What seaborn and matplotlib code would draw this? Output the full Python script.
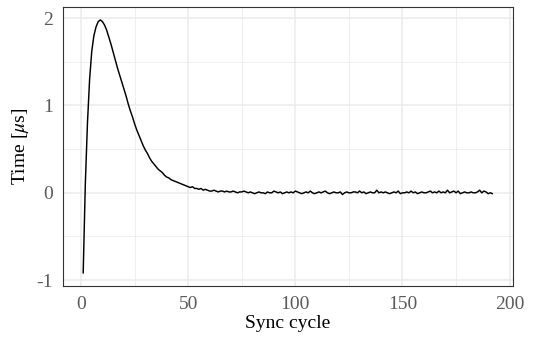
import numpy as np
import pandas as pd
import matplotlib
matplotlib.use("Agg")
import matplotlib.pyplot as plt
import seaborn as sns
from matplotlib.ticker import MultipleLocator

# Time offset per sync cycle (microseconds)
time_us = [
    -0.92, 0.10, 0.80, 1.30, 1.62, 1.80, 1.90, 1.96, 1.98, 1.96,
    1.92, 1.86, 1.78, 1.70, 1.61, 1.52, 1.43, 1.35, 1.27, 1.19,
    1.11, 1.02, 0.94, 0.87, 0.79, 0.72, 0.66, 0.60, 0.54, 0.49,
    0.45, 0.40, 0.36, 0.33, 0.30, 0.27, 0.25, 0.23, 0.20, 0.18,
    0.17, 0.15, 0.14, 0.13, 0.12, 0.11, 0.10, 0.09, 0.08, 0.07,
    0.06, 0.07, 0.05, 0.05, 0.04, 0.05, 0.03, 0.04, 0.03, 0.02,
    0.02, 0.03, 0.02, 0.01, 0.02, 0.02, 0.01, 0.02, 0.01, 0.01,
    0.02, 0.01, 0.00, 0.01, 0.01, 0.02, 0.01, 0.00, 0.01, 0.00,
    -0.01, 0.00, 0.01, 0.00, 0.00, -0.01, 0.01, 0.00, 0.00, 0.02,
    0.01, 0.00, 0.01, -0.01, 0.00, 0.01, 0.00, 0.01, 0.00, 0.02,
    0.01, 0.00, -0.01, 0.00, 0.01, 0.00, 0.02, 0.00, -0.01, 0.00,
    0.01, 0.00, 0.01, 0.02, 0.00, -0.01, 0.00, 0.01, 0.00, 0.00,
    0.01, -0.02, 0.00, 0.01, 0.00, 0.00, 0.01, 0.01, 0.00, 0.02,
    0.00, 0.01, -0.01, 0.00, 0.01, 0.00, 0.00, 0.03, 0.00, 0.01,
    0.00, 0.01, 0.00, -0.01, 0.00, 0.01, 0.00, 0.02, -0.01, 0.00,
    0.00, 0.01, 0.00, 0.02, 0.00, 0.01, -0.01, 0.00, 0.01, 0.00,
    0.00, 0.01, 0.02, 0.00, 0.01, 0.00, 0.02, 0.00, 0.01, 0.00,
    0.03, 0.00, 0.01, 0.02, 0.00, 0.02, -0.01, 0.00, 0.01, 0.00,
    0.00, 0.01, 0.00, 0.00, 0.01, 0.03, 0.00, 0.02, 0.01, -0.01,
    0.00, -0.01,
]
sync_cycle = list(range(1, len(time_us) + 1))

x_ticks = [0, 50, 100, 150, 200]
y_ticks = [-1, 0, 1, 2]

df = pd.DataFrame({"cycle": sync_cycle, "time": time_us})

sns.set_style("white")
plt.rcParams["font.family"] = ["Liberation Serif", "DejaVu Serif"]
plt.rcParams["mathtext.fontset"] = "stix"
plt.rcParams["axes.unicode_minus"] = False

fig = plt.figure(figsize=(5.36, 3.46), dpi=100)
ax = fig.add_axes([0.117, 0.174, 0.840, 0.805])

sns.lineplot(data=df, x="cycle", y="time", color="black", linewidth=1.05, ax=ax)
ax.margins(x=0.05, y=0.05)

ax.set_xticks(x_ticks)
ax.set_yticks(y_ticks)
ax.xaxis.set_minor_locator(MultipleLocator(25))
ax.yaxis.set_minor_locator(MultipleLocator(0.5))
ax.grid(which="major", color="#EBEBEB", linewidth=1.1)
ax.grid(which="minor", color="#EBEBEB", linewidth=0.55)
ax.set_axisbelow(True)

for s in ax.spines.values():
    s.set_color("#333333")
    s.set_linewidth(0.8)

ax.tick_params(which="major", direction="out", length=4, width=0.8,
               color="#333333", labelcolor="#5A5A5A", labelsize=14, pad=3)
ax.tick_params(which="minor", length=0)
ax.set_xlabel("Sync cycle", fontsize=14, color="black", labelpad=2)
ax.set_ylabel(r"Time [$\mu$s]", fontsize=14, color="black", labelpad=4)

fig.savefig("out.png", dpi=100)
